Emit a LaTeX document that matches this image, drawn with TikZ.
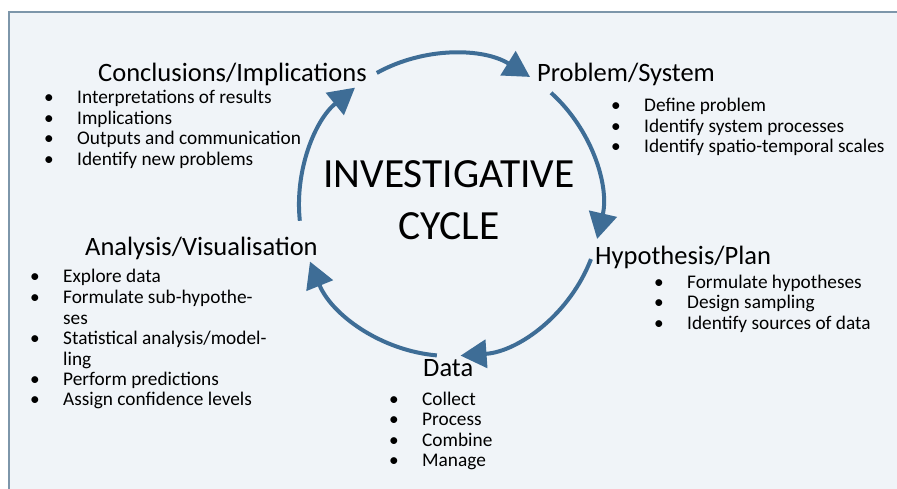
\documentclass[tikz,border=0pt]{standalone}
\usepackage{fontspec}
\setmainfont{Carlito}
\usetikzlibrary{arrows.meta}

\definecolor{cycblue}{RGB}{62,109,150}
\definecolor{bgfill}{RGB}{240,244,248}
\definecolor{framecol}{RGB}{125,150,170}

\newcommand{\blist}[1]{\begin{tabular}[t]{@{}p{33pt}@{}l@{}}#1\end{tabular}}
\newcommand{\bl}{\textbullet &}

\begin{document}
\begin{tikzpicture}
[
x = 1pt, y = -1pt,
cyc/.style = {draw = cycblue, line width = 4pt, -{Triangle[length=26pt,width=28pt]}},
head/.style = {anchor = base west, inner sep = 0pt, font = \fontsize{26.5}{30}\selectfont},
list/.style = {anchor = base west, inner sep = 0pt, font = \fontsize{19.3}{20.5}\selectfont},
title/.style = {anchor = base, inner sep = 0pt, font = \fontsize{41.5}{44}\selectfont},
]

\useasboundingbox (0,0) rectangle (897,489);
\fill[bgfill] (9,12) rectangle (897,489);
\draw[framecol, line width = 2pt] (897,12) -- (9,12) -- (9,489);

\def\rad{151}
\coordinate (O) at (450,205);

% titles
\node[title] (t1) at (449,188) {INVESTIGATIVE};
\node[title] (t2) at (449,240) {CYCLE};

% stages
\node[head] (conc) at (98,82) {Conclusions/Implications};
\node[list] (concl) at (44,104) {\blist{\bl Interpretations of results\\ \bl Implications\\ \bl Outputs and communication\\ \bl Identify new problems}};

\node[head] (prob) at (537,82) {Problem/System};
\node[list] (probl) at (611,112) {\blist{\bl Define problem\\ \bl Identify system processes\\ \bl Identify spatio-temporal scales}};

\node[head] (hyp) at (595,265) {Hypothesis/Plan};
\node[list] (hypl) at (654,288) {\blist{\bl Formulate hypotheses\\ \bl Design sampling\\ \bl Identify sources of data}};

\node[head] (data) at (423,376) {Data};
\node[list] (datal) at (389,405) {\blist{\bl Collect\\ \bl Process\\ \bl Combine\\ \bl Manage}};

\node[head] (ana) at (85,255) {Analysis/Visualisation};
\node[list] (anal) at (30,283) {\blist{\bl Explore data\\ \bl Formulate sub-hypothe-\\ & ses\\ \bl Statistical analysis/model-\\ & ling\\ \bl Perform predictions\\ \bl Assign confidence levels}};

% cycle arcs
\path (O) ++(-119:\rad) coordinate (a1);
\path (O) ++(-48:\rad) coordinate (a2);
\path (O) ++(21:\rad) coordinate (a3);
\path (O) ++(95:\rad) coordinate (a4);
\path (O) ++(174:\rad) coordinate (a5);

\draw[cyc] (a1) arc[start angle=-119, end angle=-58, radius=\rad];
\draw[cyc] (a2) arc[start angle=-48, end angle=13, radius=\rad];
\draw[cyc] (a3) arc[start angle=21, end angle=86, radius=\rad];
\draw[cyc] (a4) arc[start angle=95, end angle=158, radius=\rad];
\draw[cyc] (a5) arc[start angle=174, end angle=231, radius=\rad];
\end{tikzpicture}
\end{document}
